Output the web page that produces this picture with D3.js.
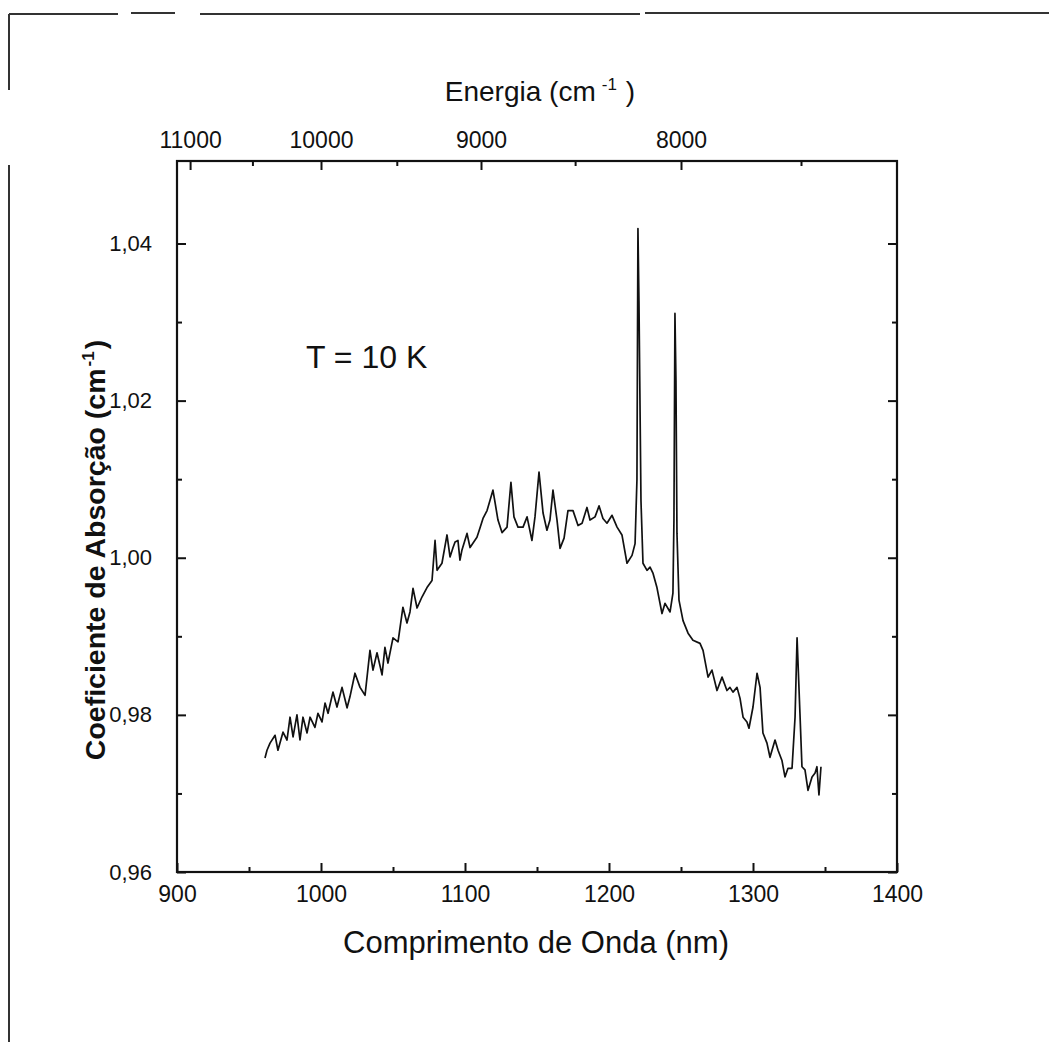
<!DOCTYPE html>
<html>
<head>
<meta charset="utf-8">
<script src="https://cdn.jsdelivr.net/npm/d3@7"></script>
<style>
  body { margin: 0; background: #fff; }
  text { fill: #111; }
</style>
</head>
<body>
<div class="vis-spectrum"></div>
<script>
// spectrum: wavelength (nm) and absorption coefficient (cm-1)
const wavelength = [
  961.1, 962.5, 964.6, 968.1, 970.1, 973.6, 976.4, 978.5, 980.6, 983.3,
  985.4, 987.5, 990.3, 992.4, 995.8, 997.9, 1000.7, 1002.8, 1004.9, 1008.3,
  1011.1, 1014.6, 1018.1, 1020.1, 1023.6, 1027.1, 1030.6, 1034.0, 1036.1, 1038.9,
  1042.4, 1044.4, 1046.5, 1050.0, 1053.5, 1056.9, 1059.7, 1061.8, 1063.9, 1066.7,
  1070.1, 1073.6, 1077.1, 1079.2, 1080.6, 1084.0, 1087.5, 1089.6, 1091.7, 1093.1,
  1095.1, 1096.5, 1097.9, 1101.4, 1103.5, 1108.3, 1110.4, 1112.5, 1115.3, 1119.4,
  1120.8, 1122.9, 1125.7, 1129.2, 1131.9, 1134.0, 1136.8, 1140.3, 1143.1, 1146.5,
  1148.6, 1151.4, 1154.2, 1156.9, 1159.0, 1161.1, 1163.9, 1166.0, 1168.8, 1171.5,
  1175.0, 1178.5, 1181.3, 1184.7, 1186.8, 1190.3, 1193.1, 1195.8, 1198.6, 1202.1,
  1205.6, 1209.0, 1212.5, 1216.0, 1218.1, 1219.4, 1220.1, 1220.8, 1222.2, 1223.6,
  1226.4, 1228.5, 1230.6, 1233.3, 1236.8, 1238.9, 1242.4, 1244.4, 1245.1, 1245.8,
  1246.5, 1247.2, 1248.6, 1251.4, 1254.9, 1258.3, 1263.2, 1265.3, 1268.8, 1271.5,
  1275.0, 1278.5, 1281.9, 1284.0, 1286.1, 1288.9, 1291.0, 1293.1, 1295.8, 1297.2,
  1300.0, 1302.8, 1304.9, 1306.9, 1309.7, 1311.8, 1315.3, 1317.4, 1320.1, 1322.2,
  1324.3, 1327.1, 1329.2, 1330.6, 1332.6, 1334.0, 1336.1, 1338.2, 1341.0, 1343.1,
  1344.4, 1345.8, 1347.2
];
const absorption = [
  0.9745, 0.9755, 0.9764, 0.9774, 0.9755, 0.9778, 0.9768, 0.9797, 0.9772, 0.9800,
  0.9768, 0.9797, 0.9777, 0.9797, 0.9784, 0.9802, 0.9791, 0.9815, 0.9802, 0.9829,
  0.9810, 0.9835, 0.9809, 0.9823, 0.9853, 0.9835, 0.9825, 0.9882, 0.9857, 0.9879,
  0.9851, 0.9886, 0.9866, 0.9898, 0.9893, 0.9937, 0.9917, 0.9931, 0.9961, 0.9936,
  0.9950, 0.9962, 0.9971, 1.0022, 0.9984, 0.9993, 1.0029, 1.0001, 1.0013, 1.0020,
  1.0022, 0.9997, 1.0010, 1.0031, 1.0013, 1.0026, 1.0038, 1.0050, 1.0060, 1.0086,
  1.0071, 1.0048, 1.0032, 1.0039, 1.0096, 1.0052, 1.0039, 1.0039, 1.0052, 1.0022,
  1.0052, 1.0109, 1.0057, 1.0035, 1.0048, 1.0086, 1.0048, 1.0012, 1.0025, 1.0060,
  1.0060, 1.0041, 1.0044, 1.0064, 1.0048, 1.0052, 1.0066, 1.0050, 1.0044, 1.0054,
  1.0039, 1.0029, 0.9993, 1.0003, 1.0018, 1.0099, 1.0419, 1.0327, 1.0073, 0.9993,
  0.9984, 0.9988, 0.9980, 0.9962, 0.9929, 0.9942, 0.9931, 0.9955, 1.0048, 1.0311,
  1.0226, 1.0031, 0.9946, 0.9920, 0.9904, 0.9895, 0.9891, 0.9882, 0.9848, 0.9857,
  0.9831, 0.9848, 0.9831, 0.9835, 0.9829, 0.9835, 0.9821, 0.9797, 0.9791, 0.9783,
  0.9810, 0.9853, 0.9835, 0.9777, 0.9764, 0.9746, 0.9768, 0.9755, 0.9742, 0.9721,
  0.9732, 0.9732, 0.9797, 0.9898, 0.9802, 0.9734, 0.9730, 0.9704, 0.9721, 0.9726,
  0.9734, 0.9698, 0.9734
];

const xTicks = [900, 1000, 1100, 1200, 1300, 1400];
const xMinorTicks = [950, 1050, 1150, 1250, 1350];
const yTicks = [0.96, 0.98, 1.00, 1.02, 1.04];
const yMinorTicks = [0.97, 0.99, 1.01, 1.03];
const energyTicks = [11000, 10000, 9000, 8000];
const energyMinorTicks = [10500, 9500, 8500, 7500];

const W = 1049, H = 1042;
const margin = { top: 161, right: 152, bottom: 170, left: 177 };
const ink = "#111";
const sans = "'Liberation Sans', Arial, sans-serif";

const svg = d3.select(".vis-spectrum")
    .append("svg")
    .attr("width", W)
    .attr("height", H);

// scanned page border
const border = svg.append("g").attr("stroke", "#333").attr("fill", "none");
border.append("path").attr("d", "M9,14H118M131,13H175M200,14H640M645,13H1049").attr("stroke-width", 2);
border.append("path").attr("d", "M9,14V90M9,165V1042").attr("stroke-width", 2);

const x = d3.scaleLinear().domain([900, 1400]).range([margin.left, W - margin.right]);
const y = d3.scaleLinear().domain([0.96, 1.0505]).range([H - margin.bottom, margin.top]);

const comma = d => d3.format(".2f")(d).replace(".", ",");

function styleAxis(g, size) {
    g.select(".domain").remove();
    g.selectAll(".tick line").attr("stroke", ink).attr("stroke-width", 2);
    g.selectAll("text").attr("font-family", sans).attr("font-size", size).attr("fill", ink);
}

// bottom: wavelength
svg.append("g")
    .attr("transform", "translate(0," + (H - margin.bottom) + ")")
    .call(d3.axisBottom(x).tickValues(xTicks).tickFormat(d3.format("d"))
        .tickSizeInner(-9).tickSizeOuter(0).tickPadding(14))
    .call(g => styleAxis(g, 23));
svg.append("g")
    .attr("transform", "translate(0," + (H - margin.bottom) + ")")
    .call(d3.axisBottom(x).tickValues(xMinorTicks).tickSizeInner(-5).tickSizeOuter(0).tickFormat(""))
    .call(g => styleAxis(g, 23));

// top: energy in cm-1 (E = 1e7 / lambda)
svg.append("g")
    .attr("transform", "translate(0," + margin.top + ")")
    .call(d3.axisTop(x).tickValues(energyTicks.map(e => 1e7 / e)).tickFormat(d => Math.round(1e7 / d))
        .tickSizeInner(-9).tickSizeOuter(0).tickPadding(13))
    .call(g => styleAxis(g, 23));
svg.append("g")
    .attr("transform", "translate(0," + margin.top + ")")
    .call(d3.axisTop(x).tickValues(energyMinorTicks.map(e => 1e7 / e)).tickFormat("")
        .tickSizeInner(-5).tickSizeOuter(0))
    .call(g => styleAxis(g, 23));

// left
svg.append("g")
    .attr("transform", "translate(" + margin.left + ",0)")
    .call(d3.axisLeft(y).tickValues(yTicks).tickFormat(comma).tickSizeInner(-9).tickSizeOuter(0).tickPadding(25))
    .call(g => styleAxis(g, 22));
svg.append("g")
    .attr("transform", "translate(" + margin.left + ",0)")
    .call(d3.axisLeft(y).tickValues(yMinorTicks).tickFormat("").tickSizeInner(-5).tickSizeOuter(0))
    .call(g => styleAxis(g, 22));

// right (mirror)
svg.append("g")
    .attr("transform", "translate(" + (W - margin.right) + ",0)")
    .call(d3.axisRight(y).tickValues(yTicks).tickFormat("").tickSizeInner(-9).tickSizeOuter(0))
    .call(g => styleAxis(g, 22));
svg.append("g")
    .attr("transform", "translate(" + (W - margin.right) + ",0)")
    .call(d3.axisRight(y).tickValues(yMinorTicks).tickFormat("").tickSizeInner(-5).tickSizeOuter(0))
    .call(g => styleAxis(g, 22));

// frame
svg.append("rect")
    .attr("x", margin.left)
    .attr("y", margin.top)
    .attr("width", W - margin.left - margin.right)
    .attr("height", H - margin.top - margin.bottom)
    .attr("fill", "none")
    .attr("stroke", ink)
    .attr("stroke-width", 2.2);

// spectrum
const data = wavelength.map((w, i) => [w, absorption[i]]);
svg.append("path")
    .datum(data)
    .attr("fill", "none")
    .attr("stroke", ink)
    .attr("stroke-width", 1.7)
    .attr("stroke-linejoin", "round")
    .attr("d", d3.line().x(d => x(d[0])).y(d => y(d[1])));

// titles
const topTitle = svg.append("text")
    .attr("x", 540).attr("y", 101)
    .attr("text-anchor", "middle")
    .attr("font-family", sans).attr("font-size", 28);
topTitle.append("tspan").text("Energia (cm");
topTitle.append("tspan").attr("font-size", 17).attr("dy", -11).attr("dx", 6).text("-1");
topTitle.append("tspan").attr("dy", 11).attr("dx", 9).text(")");

svg.append("text")
    .attr("x", 536).attr("y", 953)
    .attr("text-anchor", "middle")
    .attr("font-family", sans).attr("font-size", 31)
    .text("Comprimento de Onda (nm)");

const yTitle = svg.append("text")
    .attr("transform", "translate(105,550) rotate(-90)")
    .attr("text-anchor", "middle")
    .attr("font-family", sans).attr("font-size", 28.5).attr("font-weight", "bold");
yTitle.append("tspan").text("Coeficiente de Absorção (cm");
yTitle.append("tspan").attr("font-size", 17).attr("dy", -11).attr("dx", 2).text("-1");
yTitle.append("tspan").attr("dy", 11).attr("dx", 2).text(")");

svg.append("text")
    .attr("x", 306).attr("y", 368)
    .attr("font-family", sans).attr("font-size", 32)
    .text("T = 10 K");
</script>
</body>
</html>
